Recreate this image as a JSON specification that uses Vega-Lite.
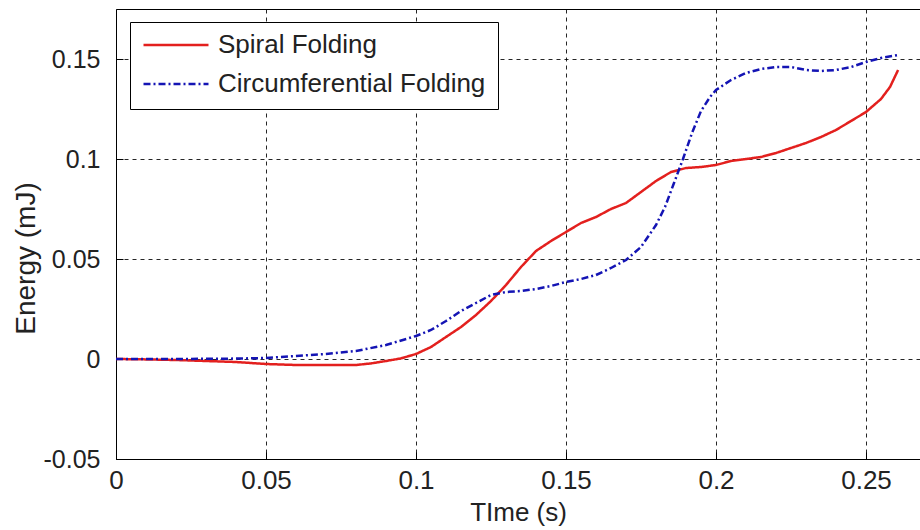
{
  "$schema": "https://vega.github.io/schema/vega-lite/v6.json",
  "autosize": "none",
  "padding": {"left": 116, "top": 9, "right": 0, "bottom": 71},
  "width": 804,
  "height": 450,
  "background": "white",
  "config": {
    "font": "Liberation Sans",
    "view": {"stroke": "black", "strokeWidth": 1},
    "axis": {
      "labelFont": "Liberation Sans",
      "labelFontSize": 25,
      "labelColor": "#222",
      "labelFlush": false,
      "labelOverlap": false,
      "titleFont": "Liberation Sans",
      "titleFontSize": 26,
      "titleFontWeight": "normal",
      "titleColor": "#222",
      "domain": false,
      "grid": true,
      "gridColor": "#000",
      "gridDash": [4, 4],
      "gridWidth": 1,
      "gridOpacity": 0.85,
      "tickColor": "#000",
      "tickSize": -7
    },
    "legend": {
      "orient": "none",
      "legendX": 14,
      "legendY": 13,
      "direction": "vertical",
      "labelFont": "Liberation Sans",
      "labelFontSize": 26,
      "labelColor": "#222",
      "labelLimit": 500,
      "symbolType": "stroke",
      "symbolSize": 4225,
      "symbolStrokeWidth": 2.5,
      "clipHeight": 22,
      "strokeColor": "#000",
      "fillColor": "white",
      "padding": 12,
      "rowPadding": 13,
      "labelOffset": 8,
      "cornerRadius": 0
    }
  },
  "data": {
    "values": [
      {"t": 0, "E": 0, "series": "Spiral Folding"},
      {"t": 0.01, "E": -0.0002, "series": "Spiral Folding"},
      {"t": 0.02, "E": -0.0005, "series": "Spiral Folding"},
      {"t": 0.03, "E": -0.001, "series": "Spiral Folding"},
      {"t": 0.04, "E": -0.0015, "series": "Spiral Folding"},
      {"t": 0.05, "E": -0.0025, "series": "Spiral Folding"},
      {"t": 0.06, "E": -0.003, "series": "Spiral Folding"},
      {"t": 0.07, "E": -0.003, "series": "Spiral Folding"},
      {"t": 0.08, "E": -0.003, "series": "Spiral Folding"},
      {"t": 0.085, "E": -0.0022, "series": "Spiral Folding"},
      {"t": 0.09, "E": -0.001, "series": "Spiral Folding"},
      {"t": 0.095, "E": 0.0003, "series": "Spiral Folding"},
      {"t": 0.1, "E": 0.0025, "series": "Spiral Folding"},
      {"t": 0.105, "E": 0.006, "series": "Spiral Folding"},
      {"t": 0.11, "E": 0.011, "series": "Spiral Folding"},
      {"t": 0.115, "E": 0.016, "series": "Spiral Folding"},
      {"t": 0.12, "E": 0.022, "series": "Spiral Folding"},
      {"t": 0.125, "E": 0.029, "series": "Spiral Folding"},
      {"t": 0.13, "E": 0.037, "series": "Spiral Folding"},
      {"t": 0.135, "E": 0.046, "series": "Spiral Folding"},
      {"t": 0.14, "E": 0.054, "series": "Spiral Folding"},
      {"t": 0.145, "E": 0.059, "series": "Spiral Folding"},
      {"t": 0.15, "E": 0.0635, "series": "Spiral Folding"},
      {"t": 0.155, "E": 0.068, "series": "Spiral Folding"},
      {"t": 0.16, "E": 0.071, "series": "Spiral Folding"},
      {"t": 0.165, "E": 0.075, "series": "Spiral Folding"},
      {"t": 0.17, "E": 0.078, "series": "Spiral Folding"},
      {"t": 0.175, "E": 0.0835, "series": "Spiral Folding"},
      {"t": 0.18, "E": 0.089, "series": "Spiral Folding"},
      {"t": 0.185, "E": 0.0935, "series": "Spiral Folding"},
      {"t": 0.19, "E": 0.0955, "series": "Spiral Folding"},
      {"t": 0.195, "E": 0.096, "series": "Spiral Folding"},
      {"t": 0.2, "E": 0.097, "series": "Spiral Folding"},
      {"t": 0.205, "E": 0.099, "series": "Spiral Folding"},
      {"t": 0.21, "E": 0.1, "series": "Spiral Folding"},
      {"t": 0.215, "E": 0.101, "series": "Spiral Folding"},
      {"t": 0.22, "E": 0.103, "series": "Spiral Folding"},
      {"t": 0.225, "E": 0.1055, "series": "Spiral Folding"},
      {"t": 0.23, "E": 0.108, "series": "Spiral Folding"},
      {"t": 0.235, "E": 0.111, "series": "Spiral Folding"},
      {"t": 0.24, "E": 0.1145, "series": "Spiral Folding"},
      {"t": 0.245, "E": 0.119, "series": "Spiral Folding"},
      {"t": 0.25, "E": 0.1235, "series": "Spiral Folding"},
      {"t": 0.255, "E": 0.13, "series": "Spiral Folding"},
      {"t": 0.258, "E": 0.136, "series": "Spiral Folding"},
      {"t": 0.2607, "E": 0.1445, "series": "Spiral Folding"},
      {"t": 0, "E": 0, "series": "Circumferential Folding"},
      {"t": 0.02, "E": 0, "series": "Circumferential Folding"},
      {"t": 0.04, "E": 0.0002, "series": "Circumferential Folding"},
      {"t": 0.05, "E": 0.0005, "series": "Circumferential Folding"},
      {"t": 0.06, "E": 0.0015, "series": "Circumferential Folding"},
      {"t": 0.07, "E": 0.0025, "series": "Circumferential Folding"},
      {"t": 0.08, "E": 0.004, "series": "Circumferential Folding"},
      {"t": 0.09, "E": 0.007, "series": "Circumferential Folding"},
      {"t": 0.1, "E": 0.0115, "series": "Circumferential Folding"},
      {"t": 0.105, "E": 0.0145, "series": "Circumferential Folding"},
      {"t": 0.11, "E": 0.019, "series": "Circumferential Folding"},
      {"t": 0.115, "E": 0.024, "series": "Circumferential Folding"},
      {"t": 0.12, "E": 0.028, "series": "Circumferential Folding"},
      {"t": 0.125, "E": 0.032, "series": "Circumferential Folding"},
      {"t": 0.13, "E": 0.0335, "series": "Circumferential Folding"},
      {"t": 0.135, "E": 0.034, "series": "Circumferential Folding"},
      {"t": 0.14, "E": 0.035, "series": "Circumferential Folding"},
      {"t": 0.145, "E": 0.0365, "series": "Circumferential Folding"},
      {"t": 0.15, "E": 0.0385, "series": "Circumferential Folding"},
      {"t": 0.155, "E": 0.04, "series": "Circumferential Folding"},
      {"t": 0.16, "E": 0.042, "series": "Circumferential Folding"},
      {"t": 0.165, "E": 0.0455, "series": "Circumferential Folding"},
      {"t": 0.17, "E": 0.0495, "series": "Circumferential Folding"},
      {"t": 0.175, "E": 0.056, "series": "Circumferential Folding"},
      {"t": 0.18, "E": 0.067, "series": "Circumferential Folding"},
      {"t": 0.183, "E": 0.076, "series": "Circumferential Folding"},
      {"t": 0.186, "E": 0.088, "series": "Circumferential Folding"},
      {"t": 0.189, "E": 0.1, "series": "Circumferential Folding"},
      {"t": 0.192, "E": 0.113, "series": "Circumferential Folding"},
      {"t": 0.195, "E": 0.124, "series": "Circumferential Folding"},
      {"t": 0.198, "E": 0.131, "series": "Circumferential Folding"},
      {"t": 0.2, "E": 0.1345, "series": "Circumferential Folding"},
      {"t": 0.205, "E": 0.1395, "series": "Circumferential Folding"},
      {"t": 0.21, "E": 0.143, "series": "Circumferential Folding"},
      {"t": 0.215, "E": 0.145, "series": "Circumferential Folding"},
      {"t": 0.22, "E": 0.146, "series": "Circumferential Folding"},
      {"t": 0.225, "E": 0.146, "series": "Circumferential Folding"},
      {"t": 0.23, "E": 0.1445, "series": "Circumferential Folding"},
      {"t": 0.235, "E": 0.144, "series": "Circumferential Folding"},
      {"t": 0.24, "E": 0.1445, "series": "Circumferential Folding"},
      {"t": 0.245, "E": 0.146, "series": "Circumferential Folding"},
      {"t": 0.25, "E": 0.1485, "series": "Circumferential Folding"},
      {"t": 0.255, "E": 0.1505, "series": "Circumferential Folding"},
      {"t": 0.2607, "E": 0.152, "series": "Circumferential Folding"}
    ]
  },
  "mark": {"type": "line", "strokeWidth": 2.5, "clip": true},
  "encoding": {
    "x": {
      "field": "t",
      "type": "quantitative",
      "scale": {"domain": [0, 0.268], "nice": false, "zero": false},
      "axis": {
        "title": "TIme (s)",
        "values": [0, 0.05, 0.1, 0.15, 0.2, 0.25],
        "labelExpr": "'' + datum.value",
        "labelFontSize": 26,
        "labelPadding": 15,
        "titlePadding": 6
      }
    },
    "y": {
      "field": "E",
      "type": "quantitative",
      "scale": {"domain": [-0.05, 0.175], "nice": false, "zero": false},
      "axis": {
        "title": "Energy (mJ)",
        "values": [-0.05, 0, 0.05, 0.1, 0.15],
        "labelExpr": "'' + datum.value",
        "labelFontSize": 25,
        "labelPadding": 23,
        "titleFontSize": 28,
        "titleX": -90,
        "titleY": 249,
        "titleBaseline": "middle",
        "titleAlign": "center",
        "titleAngle": 270
      }
    },
    "color": {
      "field": "series",
      "type": "nominal",
      "scale": {"domain": ["Spiral Folding", "Circumferential Folding"], "range": ["#e3201e", "#1414b4"]},
      "legend": {"title": null}
    },
    "strokeDash": {
      "field": "series",
      "type": "nominal",
      "scale": {"domain": ["Spiral Folding", "Circumferential Folding"], "range": [[1, 0], [7, 3, 2, 3]]},
      "legend": {"title": null}
    },
    "order": {"field": "t", "type": "quantitative"}
  }
}
